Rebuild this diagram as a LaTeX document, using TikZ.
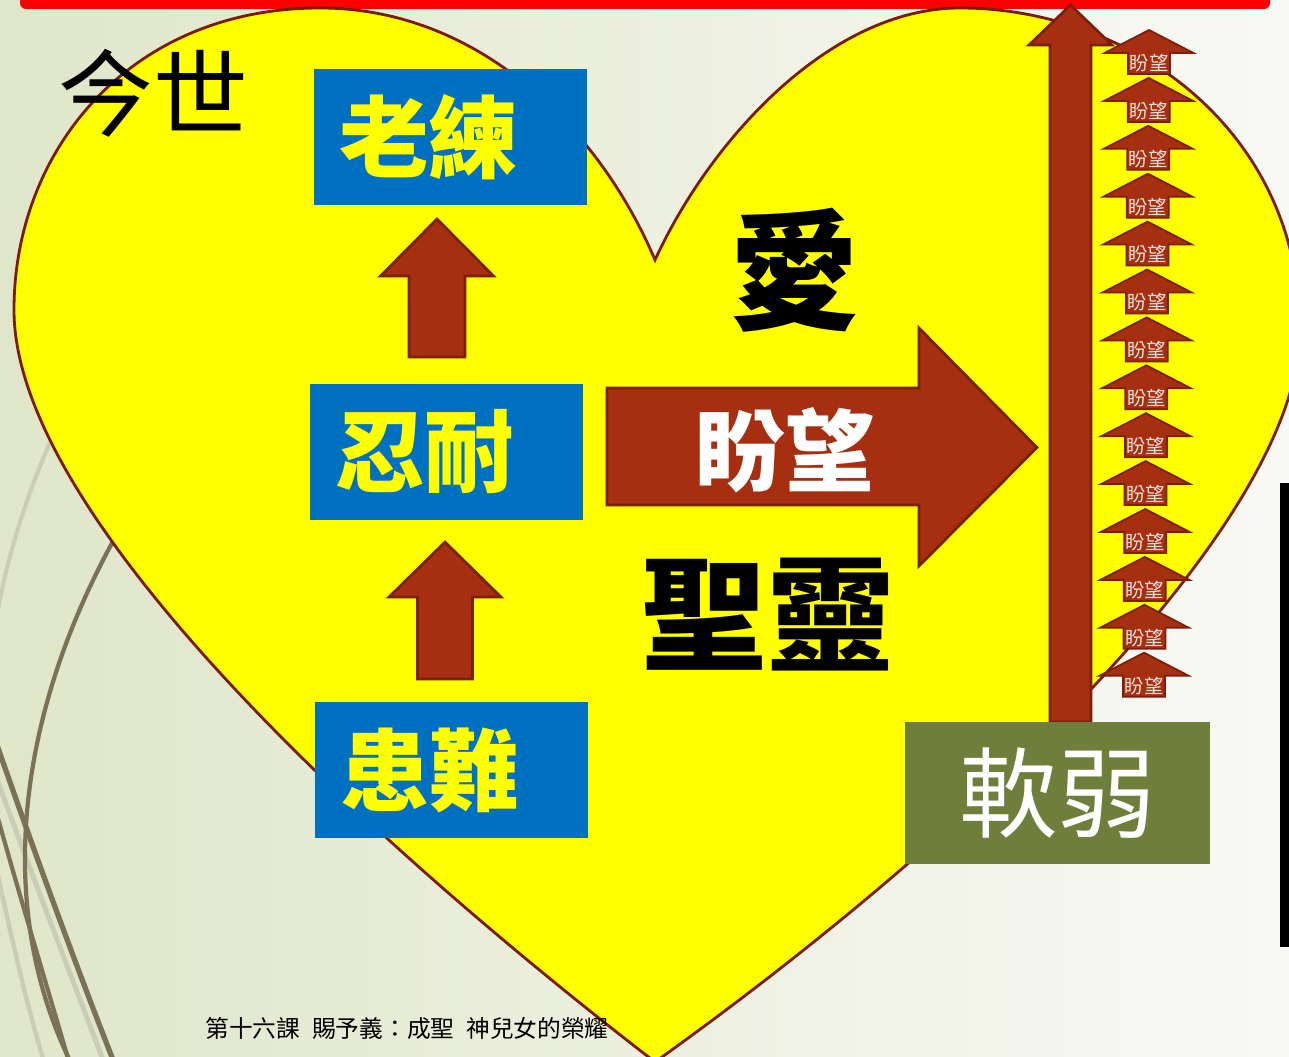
\documentclass[tikz,border=0pt]{standalone}
\usepackage{fontspec}
\newfontfamily\cjk{Noto Sans CJK TC}
\definecolor{bgleft}{HTML}{DFE6C9}
\definecolor{bgright}{HTML}{F9F9F5}
\definecolor{heartyellow}{HTML}{FFFF00}
\definecolor{heartline}{HTML}{7B1C0A}
\definecolor{arrowfill}{HTML}{A52F10}
\definecolor{arrowline}{HTML}{7C1E0C}
\definecolor{boxblue}{HTML}{0070C0}
\definecolor{boxolive}{HTML}{6E7F3B}
\definecolor{decodark}{HTML}{7A7157}
\definecolor{decolight}{HTML}{C9CDB6}
\definecolor{smalltext}{HTML}{F4E2DC}
% block arrow pointing up: x, tip y, tail y, half head, half shaft, head length
\newcommand{\upblock}[7][1.5pt]{%
  \draw[block, line width=#1] (#2,#3) -- (#2+#5,#3+#7) -- (#2+#6,#3+#7) -- (#2+#6,#4)
    -- (#2-#6,#4) -- (#2-#6,#3+#7) -- (#2-#5,#3+#7) -- cycle;}
\begin{document}
\begin{tikzpicture}[x=0.02cm,y=-0.02cm]
\tikzstyle{every node}+=[inner sep=0pt]
\tikzstyle{block}=[fill=arrowfill, draw=arrowline, line join=miter]
\tikzstyle{bluebox}=[fill=boxblue, text=heartyellow, minimum height=2.72cm,
  text width=4.46cm, inner xsep=0.5cm, align=left,
  font=\cjk\bfseries\fontsize{51pt}{51pt}\selectfont]
\tikzstyle{bigword}=[text=black, font=\cjk\bfseries\fontsize{72pt}{72pt}\selectfont]
\clip (0,0) rectangle (1289,1057);
\shade[left color=bgleft, right color=bgright] (0,0) rectangle (1289,1057);
% background curves
\draw[decolight, line width=2.3pt] (70,400) .. controls (35,470) and (10,540) .. (-5,625);
\draw[decolight, line width=2.8pt] (-10,760) .. controls (30,870) and (65,960) .. (105,1065);
\draw[decolight, line width=2.5pt] (-10,840) .. controls (10,930) and (25,1000) .. (45,1065);
\draw[decodark, line width=2.4pt] (125,520) .. controls (20,700) and (-10,900) .. (72,1065);
\draw[decodark, line width=3pt] (-10,725) .. controls (30,840) and (70,950) .. (115,1065);
\draw[decodark, line width=2.4pt] (-10,790) .. controls (15,880) and (45,980) .. (70,1065);
% top bar and right bar
\fill[red, rounded corners=0.12cm] (20,-10) rectangle (1270,9);
\fill[black] (1280,483) rectangle (1289,947);
% heart
\draw[fill=heartyellow, draw=heartline, line width=1.6pt]
  (655,260) .. controls (600,130) and (480,8) .. (320,8)
  .. controls (130,8) and (14,150) .. (14,310)
  .. controls (14,520) and (380,850) .. (655,1062)
  .. controls (980,830) and (1300,520) .. (1300,330)
  .. controls (1300,130) and (1130,8) .. (960,8)
  .. controls (830,8) and (710,140) .. (655,260) -- cycle;
\node[text=black, font=\cjk\fontsize{54pt}{54pt}\selectfont] (now) at (153,93) {今世};
% blue boxes
\node[bluebox] (seasoned) at (450.5,137) {老練};
\node[bluebox] (patience) at (446.5,452) {忍耐};
\node[bluebox] (trouble) at (451.5,770) {患難};
\upblock{437}{219}{357}{56.5}{28}{57}
\upblock{445}{542}{679}{56}{27.5}{55}
% big arrow
\draw[block, line width=1.5pt] (607,388) -- (919,388) -- (919,328) -- (1037,447.5)
  -- (919,566) -- (919,505) -- (607,505) -- cycle;
\node[text=white, font=\cjk\bfseries\fontsize{51pt}{51pt}\selectfont] (hope) at (785,450) {盼望};
\node[bigword, font=\cjk\bfseries\fontsize{74pt}{74pt}\selectfont] (love) at (795,270) {愛};
\node[bigword] (spirit) at (767,615) {聖靈};
% rising arrow and small arrows
\upblock{1070.5}{5}{722}{41.5}{20.5}{40}
\foreach \i in {0,...,13}{
  \pgfmathsetmacro{\hx}{1149-0.38*\i}
  \pgfmathsetmacro{\tipy}{30+47.9*\i}
  \upblock[1pt]{\hx}{\tipy}{\tipy+44}{44.5}{21}{23}
  \node[text=smalltext, font=\cjk\fontsize{11pt}{11pt}\selectfont] (hope\i) at (\hx,\tipy+33) {盼望};
}
\node[fill=boxolive, text=white, minimum width=6.1cm, minimum height=2.84cm,
  font=\cjk\fontsize{56pt}{56pt}\selectfont] (weak) at (1057.5,793) {軟弱};
\node[text=black, font=\cjk\fontsize{13.5pt}{13.5pt}\selectfont] (footer) at (407,1028)
  {第十六課\hspace{0.5em}賜予義：成聖\hspace{0.5em}神兒女的榮耀};
\end{tikzpicture}
\end{document}
